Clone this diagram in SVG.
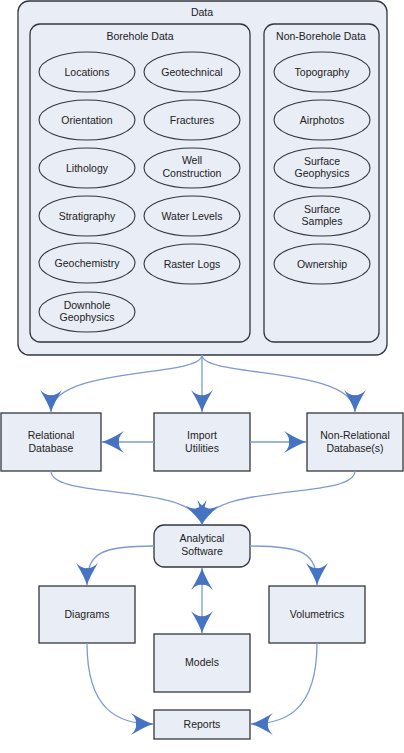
<svg xmlns="http://www.w3.org/2000/svg" width="404" height="753" viewBox="0 0 404 753">
<style>
.box{fill:#e9edf6;stroke:#33363d;stroke-width:1.3}
.ell{fill:#e9edf6;stroke:#33363d;stroke-width:1.1}
text{font-family:"Liberation Sans",Arial,sans-serif;font-size:10.5px;fill:#222;text-anchor:middle}
.con{fill:none;stroke:#7d9bd1;stroke-width:1.3}
</style>
<defs>
<marker id="ah" markerUnits="userSpaceOnUse" markerWidth="26" markerHeight="26" viewBox="-24 -13 26 26" refX="0" refY="0" orient="auto-start-reverse">
<path d="M0,0 Q-9,-3 -22,-11 Q-16,-5 -17,0 Q-16,5 -22,11 Q-9,3 0,0 Z" fill="#4673c2"/>
</marker>
</defs>
<rect fill="#fff" width="404" height="753"/>
<g id="data"><rect class="box" x="18" y="1" width="369" height="354" rx="11"/><text x="202" y="16">Data</text></g>
<g id="borehole"><rect class="box" x="30" y="24" width="220" height="318" rx="10"/><text x="140" y="40">Borehole Data</text></g>
<g id="nonborehole"><rect class="box" x="264" y="24" width="115" height="318" rx="10"/><text x="321" y="40">Non-Borehole Data</text></g>
<g id="locations"><ellipse class="ell" cx="87" cy="72" rx="48" ry="20"/><text x="87" y="76">Locations</text></g>
<g id="orientation"><ellipse class="ell" cx="87" cy="120" rx="48" ry="20"/><text x="87" y="124">Orientation</text></g>
<g id="lithology"><ellipse class="ell" cx="87" cy="168" rx="48" ry="20"/><text x="87" y="172">Lithology</text></g>
<g id="stratigraphy"><ellipse class="ell" cx="87" cy="216" rx="48" ry="20"/><text x="87" y="220">Stratigraphy</text></g>
<g id="geochemistry"><ellipse class="ell" cx="87" cy="263" rx="48" ry="20"/><text x="87" y="267">Geochemistry</text></g>
<g id="downhole"><ellipse class="ell" cx="87" cy="312" rx="48" ry="20"/><text x="87" y="309">Downhole</text><text x="87" y="321">Geophysics</text></g>
<g id="geotechnical"><ellipse class="ell" cx="192" cy="72" rx="48" ry="20"/><text x="192" y="76">Geotechnical</text></g>
<g id="fractures"><ellipse class="ell" cx="192" cy="120" rx="48" ry="20"/><text x="192" y="124">Fractures</text></g>
<g id="wellconstruction"><ellipse class="ell" cx="192" cy="168" rx="48" ry="20"/><text x="192" y="164">Well</text><text x="192" y="177">Construction</text></g>
<g id="waterlevels"><ellipse class="ell" cx="192" cy="216" rx="48" ry="20"/><text x="192" y="220">Water Levels</text></g>
<g id="rasterlogs"><ellipse class="ell" cx="192" cy="264" rx="48" ry="20"/><text x="192" y="268">Raster Logs</text></g>
<g id="topography"><ellipse class="ell" cx="322" cy="72" rx="48" ry="20"/><text x="322" y="76">Topography</text></g>
<g id="airphotos"><ellipse class="ell" cx="322" cy="120" rx="48" ry="20"/><text x="322" y="124">Airphotos</text></g>
<g id="surfgeo"><ellipse class="ell" cx="322" cy="168" rx="48" ry="20"/><text x="322" y="165">Surface</text><text x="322" y="177">Geophysics</text></g>
<g id="surfsamples"><ellipse class="ell" cx="322" cy="216" rx="48" ry="20"/><text x="322" y="213">Surface</text><text x="322" y="225">Samples</text></g>
<g id="ownership"><ellipse class="ell" cx="322" cy="264" rx="48" ry="20"/><text x="322" y="268">Ownership</text></g>
<g id="relational"><rect class="box" x="1" y="413" width="100" height="58"/><text x="51" y="439">Relational</text><text x="51" y="452">Database</text></g>
<g id="import"><rect class="box" x="154" y="413" width="96" height="58"/><text x="202" y="439">Import</text><text x="202" y="452">Utilities</text></g>
<g id="nonrelational"><rect class="box" x="307" y="413" width="96" height="58"/><text x="355" y="439">Non-Relational</text><text x="355" y="452">Database(s)</text></g>
<g id="analytical"><rect class="box" x="154" y="525" width="96" height="42" rx="10"/><text x="202" y="542">Analytical</text><text x="202" y="555">Software</text></g>
<g id="diagrams"><rect class="box" x="39" y="586" width="96" height="57"/><text x="87" y="618">Diagrams</text></g>
<g id="volumetrics"><rect class="box" x="269" y="586" width="96" height="57"/><text x="317" y="618">Volumetrics</text></g>
<g id="models"><rect class="box" x="154" y="634" width="96" height="58"/><text x="202" y="666">Models</text></g>
<g id="reports"><rect class="box" x="154" y="710" width="96" height="29"/><text x="202" y="728">Reports</text></g>
<g id="connectors">
<path class="con" d="M202,355 C202,378 51,366 51,412" marker-end="url(#ah)"/>
<path class="con" d="M202,355 L202,412" marker-end="url(#ah)"/>
<path class="con" d="M202,355 C202,378 355,366 355,412" marker-end="url(#ah)"/>
<path class="con" d="M154,442 L102,442" marker-end="url(#ah)"/>
<path class="con" d="M250,442 L306,442" marker-end="url(#ah)"/>
<path class="con" d="M51,471 C51,500 190,482 202,524" marker-end="url(#ah)"/>
<path class="con" d="M355,471 C355,500 214,482 202,524" marker-end="url(#ah)"/>
<path class="con" d="M154,546 C102,546 87,552 87,585" marker-end="url(#ah)"/>
<path class="con" d="M250,546 C302,546 317,552 317,585" marker-end="url(#ah)"/>
<path class="con" d="M202,568 L202,633" marker-start="url(#ah)" marker-end="url(#ah)"/>
<path class="con" d="M87,643 C87,712 120,724 153,724" marker-end="url(#ah)"/>
<path class="con" d="M317,643 C317,712 284,724 251,724" marker-end="url(#ah)"/>
</g>
</svg>
